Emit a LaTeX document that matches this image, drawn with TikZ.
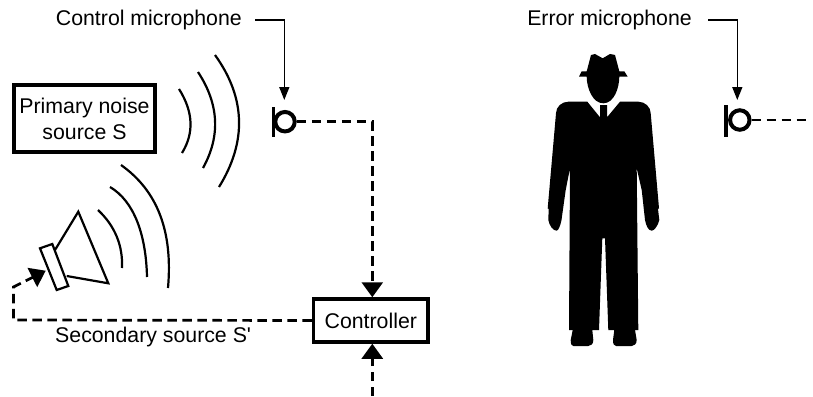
\documentclass[tikz,border=0pt]{standalone}
\usepackage{fontspec}
\setmainfont[Ligatures=NoCommon]{Liberation Sans}
\usetikzlibrary{calc}
\usetikzlibrary{arrows.meta}
\tikzset{
  label/.style={inner sep=0pt, font=\fontsize{21.3}{26}\selectfont},
  thickbox/.style={draw, line width=3.5pt, inner sep=0pt, align=center, font=\fontsize{21.3}{26}\selectfont},
  mic/.style={draw, circle, line width=4pt, minimum size=19.5pt, inner sep=0pt},
  micbar/.style={line width=3.8pt},
  wave/.style={line width=2.2pt},
  leader/.style={line width=1.5pt, -{Triangle[length=13pt, width=10pt]}},
  signal/.style={line width=2.7pt, dash pattern=on 9.5pt off 5.5pt, -{Triangle[length=15pt, width=21pt]}},
  signalend/.style={line width=2.7pt, dash pattern=on 9.5pt off 5.5pt},
}
\begin{document}
\begin{tikzpicture}[x=1pt, y=-1pt]
  \useasboundingbox (0,0) rectangle (813,396);

  % Nodes
  \node [thickbox, minimum width=141pt, minimum height=67pt] (primary) at (84.5,118.5) {Primary noise\\source S};
  \node [thickbox, minimum width=114.5pt, minimum height=43pt] (controller) at (370.8,320.5) {Controller};
  \node [mic] (ctrlmic) at (285,121.7) {};
  \node [mic] (errmic) at (739.8,120) {};
  \node [label, anchor=east] (ctrllabel) at (242,20) {Control microphone};
  \node [label, anchor=east] (errlabel) at (692,20) {Error microphone};
  \node [label, anchor=west] (seclabel) at (55,337) {Secondary source S\textquotesingle};

  % Coordinates
  \coordinate (ctrlfrom) at (255,20);
  \coordinate (ctrlbend) at (284.3,20);
  \coordinate (ctrltip) at (284.3,100);
  \coordinate (errfrom) at (708,20);
  \coordinate (errbend) at (737.3,20);
  \coordinate (errtip) at (737.3,100);
  \coordinate (ctrlcorner) at (372.3,121.7);
  \coordinate (errend) at (808,120);
  \coordinate (bottomend) at (372.3,396);
  \coordinate (feedcorner) at (13.5,320);
  \coordinate (feedup) at (13.5,287);
  \coordinate (speakertip) at (45.7,270.7);

  % Microphone bars
  \draw [micbar] (273.5,107) -- (273.5,137);
  \draw [micbar] (726,105) -- (726,137);

  % Leaders
  \draw [leader] (ctrlfrom) -- (ctrlbend) -- (ctrltip);
  \draw [leader] (errfrom) -- (errbend) -- (errtip);

  % Dashed signals
  \draw [signal] (ctrlmic.east) -- (ctrlcorner) -- (controller.north -| ctrlcorner);
  \draw [signalend] (errmic.east) -- (errend);
  \draw [signal] (bottomend) -- (controller.south -| bottomend);
  \draw [signal] (controller.west) -- (feedcorner) -- (feedup) -- (speakertip);

  % Waves of the primary source
  \draw [wave] (179,89) .. controls (193.3,111.7) and (194.3,133) .. (182,153);
  \draw [wave] (198,72) .. controls (219,104) and (220.7,136) .. (203,168);
  \draw [wave] (215,55) .. controls (245.7,97.7) and (247,141.7) .. (219,187);

  % Waves of the secondary source
  \draw [wave] (98,210) .. controls (115,226) and (123,245.6) .. (122,268);
  \draw [wave] (110,187) .. controls (133.7,201) and (146,233.7) .. (147,277);
  \draw [wave] (121,165) .. controls (157.3,190.7) and (173,231) .. (168,288);

  % Speaker
  \draw [wave] (40,248.3) -- (52.3,244) -- (68.3,286) -- (56.7,290) -- cycle;
  \draw [wave] (55,250) -- (78.3,211.7) -- (108.3,283.3) -- (66.7,276);

  % Person
  \fill (579,76.7) -- (581.7,71.3) -- (586.7,71.3) -- (591,55) -- (595,54) -- (602.7,58.3)
    -- (610,54) -- (615,55) -- (619.3,71.3) -- (624.3,71.3) -- (627.7,76.7) -- (619.3,76.7)
    .. controls (619.3,88) and (614,103.3) .. (603.3,103.3)
    .. controls (592.6,103.3) and (586.7,88) .. (586.7,76.7) -- cycle;
  \fill (587.3,101.7) -- (600,117.3) -- (600,105) -- (607,105) -- (607,117.3) -- (620,101.7)
    -- (638.3,101.7) .. controls (645,101.7) and (650.7,107) .. (650.7,113.3)
    -- (659,208.3) -- (658,209) -- (659.3,220) .. controls (658,226) and (654,230.7) .. (651.7,230.7)
    .. controls (648,230.7) and (646,225) .. (645,220)
    -- (641.7,190) -- (636.7,168.3) -- (638.3,330) -- (635,330) -- (636.7,340)
    .. controls (636.7,344) and (634,346) .. (631.7,346) -- (616,346)
    .. controls (614,346) and (613,344) .. (613,340) -- (614.3,330) -- (608.3,330)
    -- (605,238.3) -- (602.3,238.3) -- (599,330) -- (592.3,330) -- (593.3,340)
    .. controls (593.3,344) and (591,346) .. (588.3,346) -- (573.3,346)
    .. controls (571.5,346) and (570.7,344) .. (570.7,340) -- (572.7,330) -- (569,330)
    -- (570,168.3) -- (565.7,190) -- (561.5,220)
    .. controls (560.5,225) and (558.5,230.7) .. (556.7,230.7)
    .. controls (553,230.7) and (549.5,226) .. (548.3,220)
    -- (548.7,209) -- (547.7,208.3) -- (556,113.3)
    .. controls (556,107) and (561.5,101.7) .. (568.3,101.7) -- cycle;
\end{tikzpicture}
\end{document}
